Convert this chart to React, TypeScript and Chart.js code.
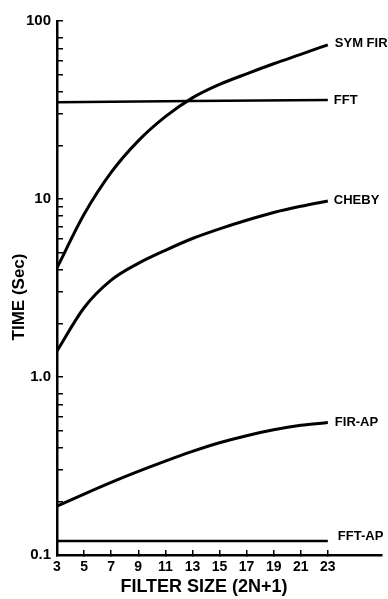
import React, { useEffect, useRef } from 'react';
import { Chart, registerables } from 'chart.js';

Chart.register(...registerables);

// ---- data ----
const filterSizes = [3, 5, 7, 9, 11, 13, 15, 17, 19, 21, 23];
const symFirTime = [4.1, 8.2, 14.1, 21.2, 29.0, 37.0, 44, 50.5, 57.5, 65, 73.5];
const chebyTime = [1.4, 2.45, 3.5, 4.35, 5.15, 6.0, 6.8, 7.6, 8.4, 9.1, 9.75];
const firApTime = [0.188, 0.22, 0.256, 0.295, 0.337, 0.382, 0.427, 0.468, 0.505, 0.535, 0.555];
const fftSizes = [3, 23];
const fftTime = [35, 36];
const fftApTime = [0.12, 0.12];

const seriesNames = ['SYM FIR', 'FFT', 'CHEBY', 'FIR-AP', 'FFT-AP'];

const xTickValues = [3, 5, 7, 9, 11, 13, 15, 17, 19, 21, 23];
const yMajorValues = [0.1, 1, 10, 100];
const yMajorLabels = ['0.1', '1.0', '10', '100'];
const yMinorValues = [
  0.2, 0.3, 0.4, 0.5, 0.6, 0.7, 0.8,
  2, 3, 4, 5, 6, 7, 8, 9,
  20, 30, 40, 50, 60, 70, 80,
];

const xTitle = 'FILTER SIZE (2N+1)';
const yTitle = 'TIME (Sec)';

// ---- styles ----
const FONT = '"Liberation Sans", Arial, sans-serif';
const labelOffsets: [number, number][] = [
  [7, -1],
  [6, 0],
  [6, -1],
  [7, 0],
  [10, -4],
];

const pts = (xs: number[], ys: number[]) => xs.map((x, i) => ({ x, y: ys[i] }));

export default function App() {
  const ref = useRef<HTMLCanvasElement>(null);

  useEffect(() => {
    const yTickValues = [...yMajorValues, ...yMinorValues].sort((a, b) => a - b);

    const textPlugin = {
      id: 'textPlugin',
      afterDraw(chart: any) {
        const ctx = chart.ctx;
        ctx.save();
        ctx.fillStyle = '#000';
        ctx.font = `bold 13px ${FONT}`;
        ctx.textBaseline = 'middle';
        ctx.textAlign = 'left';
        chart.data.datasets.forEach((ds: any, i: number) => {
          const meta = chart.getDatasetMeta(i);
          const el = meta.data[meta.data.length - 1];
          const off = labelOffsets[i];
          ctx.fillText(ds.label, el.x + off[0], el.y + off[1]);
        });
        ctx.textAlign = 'center';
        ctx.font = `bold 18px ${FONT}`;
        ctx.fillText(xTitle, 204, 587);
        ctx.translate(19, 297);
        ctx.rotate(-Math.PI / 2);
        ctx.font = `bold 17px ${FONT}`;
        ctx.fillText(yTitle, 0, 0);
        ctx.restore();
      },
    };

    const lineStyle = {
      borderColor: '#000',
      borderWidth: 3,
      pointRadius: 0,
      cubicInterpolationMode: 'monotone' as const,
      fill: false,
    };

    const chart = new Chart(ref.current!, {
      type: 'line',
      data: {
        datasets: [
          { label: seriesNames[0], data: pts(filterSizes, symFirTime), ...lineStyle },
          { label: seriesNames[1], data: pts(fftSizes, fftTime), ...lineStyle, borderWidth: 2.5 },
          { label: seriesNames[2], data: pts(filterSizes, chebyTime), ...lineStyle },
          { label: seriesNames[3], data: pts(filterSizes, firApTime), ...lineStyle },
          { label: seriesNames[4], data: pts(fftSizes, fftApTime), ...lineStyle, borderWidth: 2.5 },
        ],
      },
      options: {
        responsive: false,
        maintainAspectRatio: false,
        animation: false,
        events: [],
        layout: { padding: { top: 17, right: 6, left: 0, bottom: 0 } },
        plugins: { legend: { display: false }, tooltip: { enabled: false } },
        scales: {
          x: {
            type: 'linear',
            min: 3,
            max: 27,
            afterBuildTicks: (s: any) => {
              s.ticks = xTickValues.map((v) => ({ value: v }));
            },
            afterFit: (s: any) => {
              s.height = 44;
            },
            ticks: {
              autoSkip: false,
              maxRotation: 0,
              color: '#000',
              padding: 9,
              font: { size: 14, family: FONT, weight: 'bold' },
              callback: (v: any) => String(v),
            },
            grid: {
              display: true,
              drawOnChartArea: false,
              drawTicks: true,
              tickLength: -5,
              color: '#000',
              lineWidth: 1.5,
            },
            border: { display: true, color: '#000', width: 2.5 },
          },
          y: {
            type: 'logarithmic',
            min: 0.1,
            max: 100,
            afterBuildTicks: (s: any) => {
              s.ticks = yTickValues.map((v) => ({ value: v }));
            },
            afterFit: (s: any) => {
              s.width = 57;
            },
            ticks: {
              autoSkip: false,
              color: '#000',
              padding: 12,
              font: { size: 15, family: FONT, weight: 'bold' },
              callback: (v: any) => {
                const idx = yMajorValues.indexOf(v);
                return idx >= 0 ? yMajorLabels[idx] : '';
              },
            },
            grid: {
              display: true,
              drawOnChartArea: false,
              drawTicks: true,
              tickLength: -6,
              color: '#000',
              lineWidth: 1.5,
            },
            border: { display: true, color: '#000', width: 2.5 },
          },
        },
      },
      plugins: [textPlugin],
    } as any);

    return () => chart.destroy();
  }, []);

  return (
    <div style={{ position: 'absolute', left: 0, top: 0, width: 388, height: 599, background: '#fff' }}>
      <canvas ref={ref} width={388} height={599} style={{ display: 'block' }} />
    </div>
  );
}
